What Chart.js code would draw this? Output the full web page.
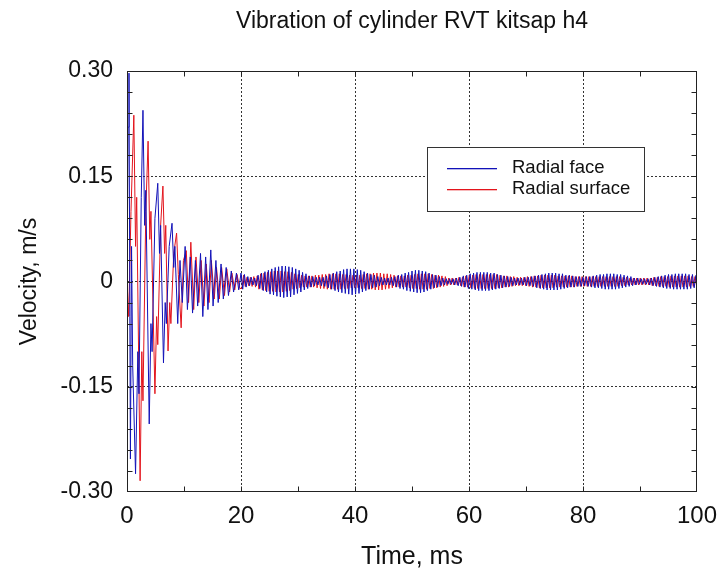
<!DOCTYPE html>
<html>
<head>
<meta charset="utf-8">
<script src="https://cdn.jsdelivr.net/npm/chart.js@4.4.1/dist/chart.umd.min.js"></script>
<style>
  html, body { margin: 0; padding: 0; background: #fff; }
  #wrap { width: 717px; height: 575px; }
</style>
</head>
<body>
<div id="wrap"><canvas id="vibChart" width="717" height="575"></canvas></div>
<script>
// Axis ticks
const xTickValues = [0, 20, 40, 60, 80, 100];
const yTickValues = [-0.3, -0.15, 0, 0.15, 0.3];
const yTickLabels = ['-0.30', '-0.15', '0', '0.15', '0.30'];
const xMinorTicks = [10, 20, 30, 40, 50, 60, 70, 80, 90];
const yMinorTicks = [-0.27, -0.24, -0.21, -0.18, -0.15, -0.12, -0.09, -0.06, -0.03, 0,
                     0.03, 0.06, 0.09, 0.12, 0.15, 0.18, 0.21, 0.24, 0.27];

const seriesNames = ['Radial face', 'Radial surface'];

// First 20 ms: [time ms, velocity m/s] at the turning points
const faceEarly = [
  [0, 0], [0.2, 0.22], [0.35, 0.297], [0.5, -0.05], [0.6, -0.253], [0.8, 0.05], [1.0, -0.12],
  [1.5, -0.274], [1.9, -0.10], [2.1, -0.16], [2.5, 0.12], [2.8, 0.244], [3.1, 0.08], [3.3, 0.13],
  [3.9, -0.203], [4.2, -0.06], [4.4, -0.10], [4.9, 0.09], [5.4, 0.14], [5.7, 0.04], [5.9, 0.08],
  [6.4, -0.116], [6.7, -0.03], [6.9, -0.06], [7.4, 0.05], [7.9, 0.083], [8.2, 0.02], [8.4, 0.05],
  [8.9, -0.06], [9.3, 0.03], [9.7, -0.03], [10.2, 0.05], [10.6, -0.04], [11.1, 0.035], [11.5, -0.045],
  [12.0, 0.03], [12.4, -0.035], [12.9, 0.04], [13.3, -0.05], [13.8, 0.035], [14.2, -0.04], [14.7, 0.045],
  [15.1, -0.035], [15.6, 0.03], [16.0, -0.03], [16.5, 0.025], [16.9, -0.025], [17.4, 0.02], [17.8, -0.02],
  [18.3, 0.015], [18.7, -0.015], [19.2, 0.012], [19.6, -0.012]
];
const surfaceEarly = [
  [0, 0], [0.3, -0.05], [0.7, 0.10], [1.2, 0.237], [1.5, 0.05], [1.7, 0.12], [2.3, -0.284],
  [2.6, -0.10], [2.8, -0.17], [3.3, 0.10], [3.7, 0.20], [4.0, 0.06], [4.2, 0.10], [4.9, -0.16],
  [5.2, -0.05], [5.4, -0.09], [5.9, 0.08], [6.3, 0.136], [6.6, 0.04], [6.8, 0.08], [7.2, -0.099],
  [7.5, -0.03], [7.7, -0.06], [8.2, 0.04], [8.7, 0.069], [9.0, 0.01], [9.5, -0.066], [9.9, 0.03],
  [10.4, 0.044], [10.8, -0.03], [11.2, 0.056], [11.7, -0.04], [12.1, 0.035], [12.6, -0.03], [13.0, 0.03],
  [13.5, -0.035], [13.9, 0.025], [14.4, -0.03], [14.8, 0.03], [15.3, -0.025], [15.7, 0.02], [16.2, -0.025],
  [16.6, 0.02], [17.1, -0.02], [17.5, 0.018], [18.0, -0.015], [18.4, 0.012], [18.9, -0.012], [19.3, 0.01],
  [19.8, -0.01]
];

// From 20 ms on: samples every 0.3 ms
const lateStep = 0.3;
const faceLateStart = 20.0;
const surfaceLateStart = 20.15;
const faceLate = [
  0.012,-0.011,0.010,-0.008,0.007,-0.006,0.006,-0.005,0.005,-0.006,
  0.009,-0.010,0.012,-0.013,0.014,-0.015,0.016,-0.018,0.018,-0.019,
  0.020,-0.021,0.021,-0.022,0.022,-0.023,0.022,-0.022,0.021,-0.022,
  0.020,-0.019,0.018,-0.017,0.016,-0.015,0.013,-0.012,0.011,-0.010,
  0.008,-0.008,0.007,-0.006,0.006,-0.005,0.006,-0.006,0.006,-0.007,
  0.008,-0.009,0.010,-0.011,0.012,-0.013,0.014,-0.015,0.015,-0.016,
  0.017,-0.017,0.018,-0.018,0.018,-0.019,0.018,-0.018,0.017,-0.017,
  0.016,-0.015,0.014,-0.013,0.012,-0.011,0.010,-0.009,0.009,-0.008,
  0.007,-0.006,0.006,-0.005,0.005,-0.005,0.005,-0.005,0.006,-0.006,
  0.007,-0.008,0.009,-0.010,0.010,-0.011,0.012,-0.013,0.013,-0.014,
  0.015,-0.015,0.016,-0.016,0.016,-0.016,0.015,-0.015,0.014,-0.013,
  0.012,-0.011,0.010,-0.009,0.009,-0.008,0.007,-0.006,0.005,-0.005,
  0.004,-0.004,0.004,-0.004,0.004,-0.005,0.005,-0.006,0.006,-0.007,
  0.008,-0.008,0.009,-0.010,0.011,-0.011,0.012,-0.012,0.013,-0.013,
  0.013,-0.013,0.013,-0.013,0.013,-0.013,0.012,-0.012,0.012,-0.011,
  0.010,-0.010,0.009,-0.009,0.008,-0.008,0.007,-0.007,0.006,-0.006,
  0.005,-0.005,0.005,-0.005,0.005,-0.005,0.006,-0.006,0.006,-0.006,
  0.007,-0.007,0.008,-0.009,0.009,-0.010,0.010,-0.011,0.011,-0.012,
  0.012,-0.012,0.012,-0.012,0.012,-0.012,0.011,-0.011,0.011,-0.010,
  0.009,-0.009,0.009,-0.008,0.008,-0.008,0.007,-0.007,0.007,-0.007,
  0.006,-0.006,0.007,-0.007,0.007,-0.008,0.008,-0.009,0.009,-0.009,
  0.010,-0.010,0.010,-0.011,0.011,-0.011,0.011,-0.011,0.011,-0.011,
  0.010,-0.010,0.010,-0.009,0.009,-0.008,0.008,-0.007,0.007,-0.006,
  0.005,-0.005,0.005,-0.004,0.004,-0.004,0.004,-0.004,0.004,-0.005,
  0.005,-0.006,0.006,-0.007,0.007,-0.008,0.008,-0.009,0.009,-0.010,
  0.010,-0.010,0.010,-0.011,0.011,-0.011,0.011,-0.011,0.011,-0.011,
  0.011,-0.011,0.010,-0.010,0.010,-0.009,0.009
];
const surfaceLate = [
  -0.010,0.009,-0.007,0.006,-0.006,0.006,-0.007,0.007,-0.008,0.008,
  -0.011,0.011,-0.012,0.012,-0.013,0.013,-0.014,0.014,-0.014,0.015,
  -0.015,0.015,-0.015,0.015,-0.015,0.014,-0.014,0.014,-0.013,0.013,
  -0.011,0.011,-0.010,0.010,-0.009,0.009,-0.008,0.008,-0.008,0.008,
  -0.008,0.008,-0.008,0.009,-0.009,0.009,-0.010,0.010,-0.010,0.010,
  -0.011,0.011,-0.011,0.011,-0.011,0.011,-0.011,0.011,-0.011,0.010,
  -0.010,0.010,-0.010,0.009,-0.009,0.009,-0.009,0.009,-0.009,0.009,
  -0.010,0.010,-0.010,0.011,-0.011,0.011,-0.011,0.012,-0.012,0.012,
  -0.012,0.012,-0.012,0.011,-0.011,0.011,-0.010,0.010,-0.009,0.009,
  -0.008,0.008,-0.008,0.008,-0.008,0.008,-0.008,0.009,-0.009,0.009,
  -0.010,0.010,-0.010,0.011,-0.011,0.011,-0.011,0.011,-0.011,0.011,
  -0.010,0.010,-0.010,0.009,-0.009,0.009,-0.008,0.008,-0.007,0.007,
  -0.006,0.005,-0.005,0.005,-0.005,0.005,-0.005,0.006,-0.006,0.006,
  -0.008,0.008,-0.008,0.009,-0.009,0.009,-0.010,0.010,-0.010,0.010,
  -0.010,0.010,-0.010,0.010,-0.010,0.010,-0.010,0.010,-0.010,0.010,
  -0.009,0.009,-0.009,0.008,-0.008,0.008,-0.008,0.007,-0.007,0.007,
  -0.006,0.006,-0.006,0.006,-0.006,0.006,-0.006,0.007,-0.007,0.007,
  -0.008,0.008,-0.008,0.008,-0.009,0.009,-0.009,0.009,-0.009,0.009,
  -0.009,0.009,-0.009,0.009,-0.008,0.008,-0.008,0.008,-0.008,0.008,
  -0.008,0.008,-0.008,0.008,-0.008,0.007,-0.007,0.007,-0.007,0.007,
  -0.007,0.007,-0.007,0.007,-0.007,0.007,-0.007,0.007,-0.007,0.007,
  -0.007,0.007,-0.007,0.007,-0.007,0.007,-0.007,0.007,-0.007,0.007,
  -0.007,0.007,-0.006,0.006,-0.006,0.006,-0.005,0.005,-0.005,0.005,
  -0.005,0.005,-0.005,0.005,-0.005,0.005,-0.005,0.005,-0.005,0.005,
  -0.006,0.006,-0.006,0.006,-0.007,0.007,-0.007,0.007,-0.007,0.007,
  -0.008,0.008,-0.008,0.008,-0.008,0.008,-0.008,0.008,-0.008,0.008,
  -0.008,0.008,-0.007,0.007,-0.007,0.007,-0.007
];

const seriesColors = ['#1212b8', '#e3141c'];
const fontFamily = '"Liberation Sans", Arial, sans-serif';

function toPoints(early, late, lateStart) {
  const pts = early.map(p => ({ x: p[0], y: p[1] }));
  late.forEach((v, i) => pts.push({ x: +(lateStart + i * lateStep).toFixed(2), y: v }));
  return pts;
}

// frame, inward minor ticks, title and legend box
const framePlugin = {
  id: 'framePlugin',
  afterDatasetsDraw(chart) {
    const { ctx, chartArea: a, scales: { x, y } } = chart;
    const L = Math.round(a.left) + 0.5, R = Math.round(a.right) - 0.5;
    const T = Math.round(a.top) + 0.5, B = Math.round(a.bottom) - 0.5;
    ctx.save();
    ctx.strokeStyle = '#222';
    ctx.lineWidth = 1;
    ctx.strokeRect(L, T, R - L, B - T);
    ctx.beginPath();
    xMinorTicks.forEach(v => {
      const px = Math.round(x.getPixelForValue(v)) + 0.5;
      ctx.moveTo(px, B); ctx.lineTo(px, B - 5);
      ctx.moveTo(px, T); ctx.lineTo(px, T + 5);
    });
    yMinorTicks.forEach(v => {
      const py = Math.round(y.getPixelForValue(v)) + 0.5;
      ctx.moveTo(L, py); ctx.lineTo(L + 5, py);
      ctx.moveTo(R, py); ctx.lineTo(R - 5, py);
    });
    ctx.stroke();

    // legend
    const lx = 427.5, ly = 147.5, lw = 217, lh = 64;
    ctx.fillStyle = '#fff';
    ctx.fillRect(lx, ly, lw, lh);
    ctx.strokeStyle = '#333';
    ctx.strokeRect(lx, ly, lw, lh);
    ctx.font = '18.5px ' + fontFamily;
    ctx.textBaseline = 'middle';
    ctx.textAlign = 'left';
    seriesNames.forEach((name, i) => {
      const yy = 168 + i * 21;
      ctx.fillStyle = seriesColors[i];
      ctx.fillRect(447, yy, 50, 1.3);
      ctx.fillStyle = '#111';
      ctx.fillText(name, 512, yy);
    });

    // title
    ctx.font = '23px ' + fontFamily;
    ctx.textAlign = 'center';
    ctx.fillStyle = '#111';
    ctx.fillText('Vibration of cylinder RVT kitsap h4', (a.left + a.right) / 2, 22);
    ctx.restore();
  }
};

const gridColor = (ctx, lo, hi) => {
  const v = ctx.tick ? ctx.tick.value : null;
  return (v === lo || v === hi) ? 'rgba(0,0,0,0)' : '#333';
};

new Chart(document.getElementById('vibChart').getContext('2d'), {
  type: 'line',
  data: {
    datasets: [
      {
        label: seriesNames[0],
        data: toPoints(faceEarly, faceLate, faceLateStart),
        borderColor: seriesColors[0],
        borderWidth: 1,
        pointRadius: 0,
        tension: 0
      },
      {
        label: seriesNames[1],
        data: toPoints(surfaceEarly, surfaceLate, surfaceLateStart),
        borderColor: seriesColors[1],
        borderWidth: 1,
        pointRadius: 0,
        tension: 0
      }
    ]
  },
  options: {
    responsive: false,
    animation: false,
    events: [],
    layout: { padding: { left: 0, right: 20, top: 71, bottom: 0 } },
    plugins: {
      legend: { display: false },
      title: { display: false },
      tooltip: { enabled: false }
    },
    scales: {
      x: {
        type: 'linear',
        min: 0, max: 100,
        afterBuildTicks: s => { s.ticks = xTickValues.map(v => ({ value: v })); },
        afterFit: s => { s.height = 83; s.paddingLeft = 0; s.paddingRight = 0; },
        ticks: {
          autoSkip: false, maxRotation: 0,
          padding: 10,
          color: '#111',
          font: { family: fontFamily, size: 24 }
        },
        grid: { color: c => gridColor(c, 0, 100), drawTicks: false, lineWidth: 1 },
        border: { display: false, dash: [2, 2] },
        title: {
          display: true, text: 'Time, ms', color: '#111',
          font: { family: fontFamily, size: 25 },
          padding: { top: 0, bottom: 3 }
        }
      },
      y: {
        type: 'linear',
        min: -0.3, max: 0.3,
        afterBuildTicks: s => { s.ticks = yTickValues.map(v => ({ value: v })); },
        afterFit: s => { s.width = 127; s.paddingTop = 0; s.paddingBottom = 0; },
        ticks: {
          autoSkip: false,
          padding: 14,
          color: '#111',
          font: { family: fontFamily, size: 23 },
          callback: v => {
            const i = yTickValues.findIndex(t => Math.abs(t - v) < 1e-9);
            return i >= 0 ? yTickLabels[i] : '';
          }
        },
        grid: { color: c => gridColor(c, -0.3, 0.3), drawTicks: false, lineWidth: 1 },
        border: { display: false, dash: [2, 2] },
        title: {
          display: true, text: 'Velocity, m/s', color: '#111',
          font: { family: fontFamily, size: 23 },
          padding: { top: 16, bottom: 0 }
        }
      }
    }
  },
  plugins: [framePlugin]
});
</script>
</body>
</html>
